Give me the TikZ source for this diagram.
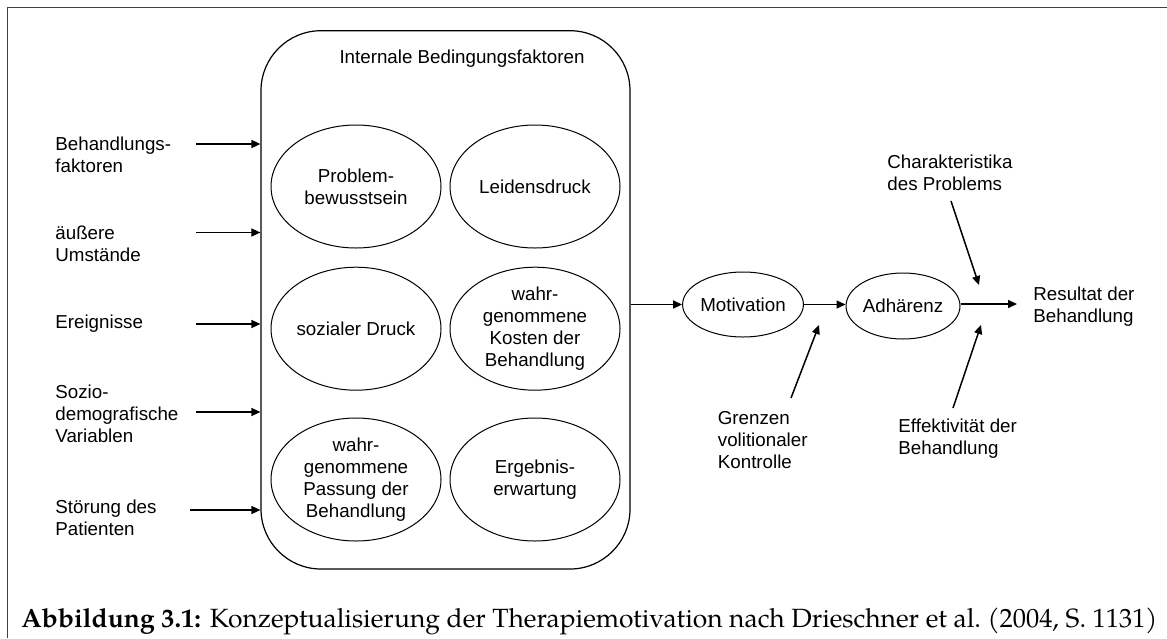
\documentclass[tikz,border=0pt]{standalone}
\usepackage{fontspec}
\setsansfont{Liberation Sans}
\newfontfamily\capfont{TeX Gyre Pagella}
\usetikzlibrary{shapes.geometric,arrows.meta}
\begin{document}
\begin{tikzpicture}[x=0.5pt,y=-0.5pt,
  lbl/.style={font=\sffamily\fontsize{9.375pt}{11.1pt}\selectfont, align=left, inner sep=0pt},
  ell/.style={ellipse, draw, line width=0.5pt, inner sep=0pt, align=center,
    font=\sffamily\fontsize{9.375pt}{11.1pt}\selectfont},
  bigell/.style={ell, minimum width=85pt, minimum height=61.5pt},
  smallell/.style={ell, minimum width=57pt, minimum height=32.5pt},
  arr/.style={line width=0.75pt, -{Triangle[length=4.5pt,width=4pt]}},
  frameline/.style={line width=0.7pt, draw=black!75}]
\useasboundingbox (0,0) rectangle (1167,638);
\draw[frameline] (1167,7.5) -- (7.5,7.5) -- (7.5,638);

% container
\node[draw, line width=0.6pt, rounded corners=30pt, inner sep=0pt,
      minimum width=184.5pt, minimum height=269.15pt] (box) at (445.5,299.85) {};
\node[lbl, anchor=base] (title) at (462,63) {Internale Bedingungsfaktoren};

% inner factors
\node[bigell] (e1) at (356,186.5) {Problem-\\bewusstsein};
\node[bigell] (e2) at (535,186.5) {Leidensdruck};
\node[bigell] (e3) at (356,328.7) {sozialer Druck};
\node[bigell] (e4) at (535,328.7) {wahr-\\genommene\\Kosten der\\Behandlung};
\node[bigell] (e5) at (356,479.5) {wahr-\\genommene\\Passung der\\Behandlung};
\node[bigell] (e6) at (535,479.5) {Ergebnis-\\erwartung};

% external factors
\node[lbl, anchor=west] (l1) at (55,155) {Behandlungs-\\faktoren};
\node[lbl, anchor=west] (l2) at (55,244) {äußere\\Umstände};
\node[lbl, anchor=west] (l3) at (55,324) {Ereignisse};
\node[lbl, anchor=west] (l4) at (55,414) {Sozio-\\demografische\\Variablen};
\node[lbl, anchor=west] (l5) at (55,517.5) {Störung des\\Patienten};

\coordinate (s1) at (196,144);
\coordinate (s2) at (196,232.5);
\coordinate (s3) at (196,324);
\coordinate (s4) at (196,412);
\coordinate (s5) at (190,510);
\draw[arr] (s1) -- (s1 -| box.west);
\draw[arr] (s2) -- (s2 -| box.west);
\draw[arr] (s3) -- (s3 -| box.west);
\draw[arr] (s4) -- (s4 -| box.west);
\draw[arr] (s5) -- (s5 -| box.west);

% main chain
\node[smallell] (mot) at (743,304.5) {Motivation};
\node[smallell, minimum height=33pt] (adh) at (903,306) {Adhärenz};
\node[lbl, anchor=west] (res) at (1033,307) {Resultat der\\Behandlung};
\coordinate (resin) at (1017,304);

\draw[arr] (box.east |- mot.west) -- (mot.west);
\draw[arr] (mot.east) -- (mot.east -| adh.west);
\draw[arr] (adh.east |- resin) -- (resin);

% moderators
\node[lbl, anchor=west] (cha) at (887,173) {Charakteristika\\des Problems};
\node[lbl, anchor=west] (gre) at (717.5,440) {Grenzen\\volitionaler\\Kontrolle};
\node[lbl, anchor=west] (eff) at (898,438.5) {Effektivität der\\Behandlung};

\coordinate (c1) at (951,201);
\coordinate (c2) at (979,285);
\coordinate (g1) at (791,398);
\coordinate (g2) at (819,325);
\coordinate (f1) at (953,408);
\coordinate (f2) at (981,325);
\draw[arr] (c1) -- (c2);
\draw[arr] (g1) -- (g2);
\draw[arr] (f1) -- (f2);

% caption
\node[anchor=base west, inner sep=0pt] (cap) at (21,627)
  {\resizebox{568pt}{!}{\capfont\fontsize{12pt}{14pt}\selectfont\textbf{Abbildung 3.1:} Konzeptualisierung der Therapiemotivation nach Drieschner et al.\ (2004, S.~1131)}};
\end{tikzpicture}
\end{document}
